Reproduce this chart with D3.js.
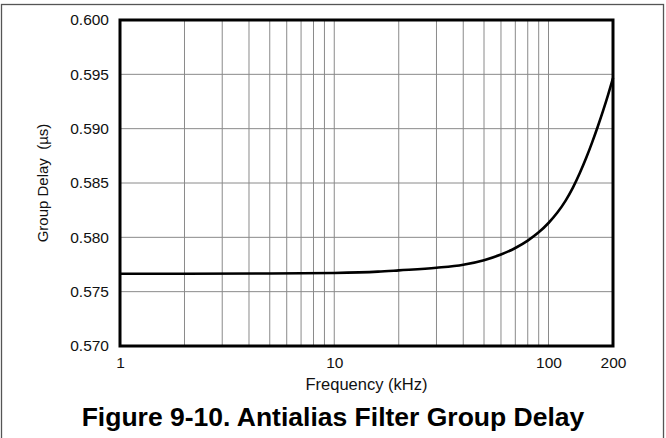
<!DOCTYPE html>
<html>
<head>
<meta charset="utf-8">
<script src="https://cdn.jsdelivr.net/npm/d3@7"></script>
<style>
  html, body { margin: 0; padding: 0; background: #fff; }
  svg { display: block; font-family: "Liberation Sans", Arial, sans-serif; }
</style>
</head>
<body>
<svg id="chart" width="666" height="438"></svg>
<script>
// Group delay of the antialias filter versus frequency
const freqKHz = [1, 2, 5, 10, 16, 20, 30, 40, 50, 60, 70, 80, 90, 100, 110, 120, 130, 140, 150, 160, 170, 180, 190, 200];
const delayUs = [0.57665, 0.57665, 0.57667, 0.57672, 0.57684, 0.57696, 0.57720, 0.57748, 0.57790, 0.57842, 0.57902, 0.57970, 0.58046, 0.58132, 0.58228, 0.58336, 0.58458, 0.58592, 0.58732, 0.58876, 0.59022, 0.59168, 0.59316, 0.59466];

const xTickValues = [1, 10, 100, 200];
const yTickValues = [0.570, 0.575, 0.580, 0.585, 0.590, 0.595, 0.600];
const xGridValues = [2, 3, 4, 5, 6, 7, 8, 9, 10, 20, 30, 40, 50, 60, 70, 80, 90, 100];

const titleText = "Figure 9-10. Antialias Filter Group Delay";
const xLabel = "Frequency (kHz)";
const yLabel = "Group Delay  (\u00b5s)";

const svg = d3.select("#chart");
const plotL = 120, plotR = 613, plotT = 20, plotB = 346;

const x = d3.scaleLog().domain([1, 200]).range([plotL, plotR]);
const y = d3.scaleLinear().domain([0.570, 0.600]).range([plotB, plotT]);

// outer frame
svg.append("rect")
  .attr("x", 1.5).attr("y", 4.5)
  .attr("width", 662).attr("height", 440)
  .attr("fill", "none").attr("stroke", "#555").attr("stroke-width", 1.3);

// grid
const grid = svg.append("g").attr("stroke", "#8a8a8a").attr("stroke-width", 1);
grid.selectAll("line.v").data(xGridValues).join("line")
  .attr("class", "v")
  .attr("x1", d => x(d)).attr("x2", d => x(d))
  .attr("y1", plotT).attr("y2", plotB);
grid.selectAll("line.h").data(yTickValues.slice(1, -1)).join("line")
  .attr("class", "h")
  .attr("x1", plotL).attr("x2", plotR)
  .attr("y1", d => y(d)).attr("y2", d => y(d));

// axes (labels only)
const xAxis = svg.append("g")
  .attr("transform", `translate(0,${plotB + 8})`)
  .call(d3.axisBottom(x).tickValues(xTickValues).tickSize(0).tickFormat(d3.format("d")));
xAxis.select(".domain").remove();
xAxis.selectAll("text").attr("font-size", 15.5).attr("fill", "#111")
  .attr("font-family", "Liberation Sans, Arial, sans-serif");

const yAxis = svg.append("g")
  .attr("transform", `translate(${plotL - 8},0)`)
  .call(d3.axisLeft(y).tickValues(yTickValues).tickSize(0).tickFormat(d3.format(".3f")));
yAxis.select(".domain").remove();
yAxis.selectAll("text").attr("font-size", 15.5).attr("fill", "#111")
  .attr("font-family", "Liberation Sans, Arial, sans-serif");

// curve
const line = d3.line()
  .x((d, i) => x(freqKHz[i]))
  .y(d => y(d))
  .curve(d3.curveMonotoneX);
svg.append("path")
  .datum(delayUs)
  .attr("d", line)
  .attr("fill", "none")
  .attr("stroke", "#000")
  .attr("stroke-width", 2.6);

// plot frame
svg.append("rect")
  .attr("x", plotL).attr("y", plotT)
  .attr("width", plotR - plotL).attr("height", plotB - plotT)
  .attr("fill", "none").attr("stroke", "#000").attr("stroke-width", 3);

// axis titles
svg.append("text")
  .attr("x", (plotL + plotR) / 2).attr("y", 390)
  .attr("text-anchor", "middle")
  .attr("font-size", 16.5).attr("fill", "#111")
  .text(xLabel);

svg.append("text")
  .attr("transform", `translate(48,${(plotT + plotB) / 2}) rotate(-90)`)
  .attr("text-anchor", "middle")
  .attr("font-size", 15).attr("fill", "#111")
  .style("white-space", "pre")
  .text(yLabel);

// figure caption
svg.append("text")
  .attr("x", 333).attr("y", 426)
  .attr("text-anchor", "middle")
  .attr("font-size", 26.5).attr("font-weight", "bold").attr("fill", "#000")
  .text(titleText);
</script>
</body>
</html>
